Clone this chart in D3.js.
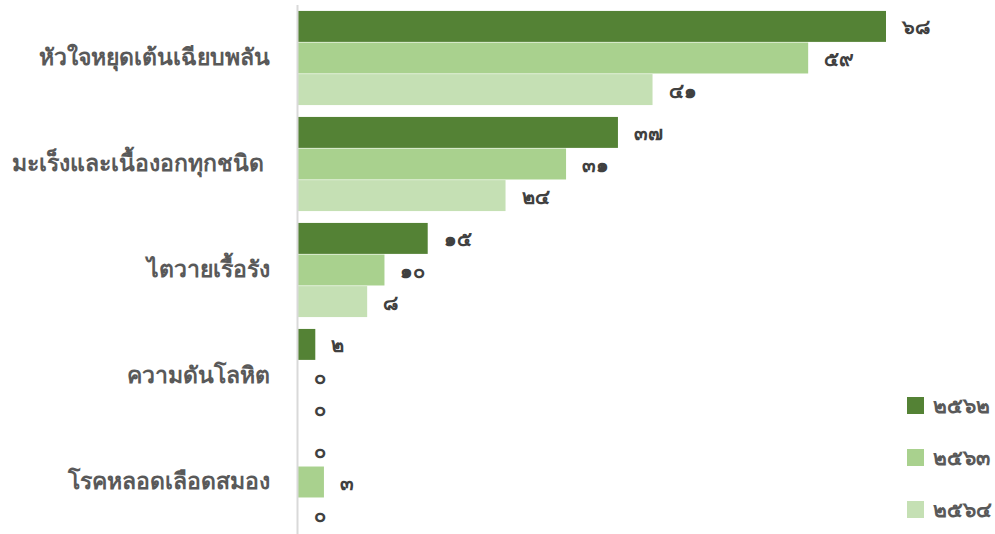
<!DOCTYPE html>
<html><head><meta charset="utf-8">
<script src="https://cdn.jsdelivr.net/npm/d3@7"></script>
<style>
html,body{margin:0;padding:0;background:#fff;}
svg{display:block;font-family:"Noto Sans","Open Sans",sans-serif;}
</style></head>
<body><svg id="c" width="995" height="534"></svg>
<script>
const categories = ["หัวใจหยุดเต้นเฉียบพลัน","มะเร็งและเนื้องอกทุกชนิด\u00A0","ไตวายเรื้อรัง","ความดันโลหิต","โรคหลอดเลือดสมอง"];
const seriesNames = ["๒๕๖๒","๒๕๖๓","๒๕๖๔"];
const v2562 = [68,37,15,2,0];
const v2563 = [59,31,10,0,3];
const v2564 = [41,24,8,0,0];
const colors = ["#548235","#A9D18E","#C5E0B4"];
const series = [v2562,v2563,v2564];
const thai = n => String(n).replace(/[0-9]/g, d => "๐๑๒๓๔๕๖๗๘๙"[+d]);

const svg = d3.select("#c");
const x = d3.scaleLinear().domain([0,68]).range([298,886]);
const y0 = d3.scaleBand().domain(categories).range([5,535]).paddingInner(0.1).paddingOuter(0.05);
const y1 = d3.scaleBand().domain(seriesNames).range([0,y0.bandwidth()]).padding(0.02);

const g = svg.append("g");
categories.forEach((c,i)=>{
  const gg = g.append("g").attr("transform",`translate(0,${y0(c)})`);
  seriesNames.forEach((s,j)=>{
    const v = series[j][i];
    gg.append("rect").attr("x",x(0)).attr("y",y1(s)).attr("width",x(v)-x(0)).attr("height",y1.bandwidth()).attr("fill",colors[j]);
    gg.append("text").attr("x",x(v)+16).attr("y",y1(s)+y1.bandwidth()/2).attr("dy","0.4em")
      .attr("fill","#404040").attr("font-size",20).attr("font-weight","bold").text(thai(v));
  });
});
// axis line
svg.append("line").attr("x1",x(0)-0.5).attr("x2",x(0)-0.5).attr("y1",5).attr("y2",534).attr("stroke","#D9D9D9").attr("stroke-width",2);
// category labels
const ax = d3.axisLeft(y0).tickSize(0).tickPadding(28);
const axg = svg.append("g").attr("transform",`translate(${x(0)},0)`).call(ax);
axg.select(".domain").remove();
axg.selectAll("text").attr("fill","#595959").attr("font-size",23).attr("font-weight","bold").style("font-family","\"Noto Sans\",sans-serif");
// legend
const leg = svg.append("g");
seriesNames.forEach((s,j)=>{
  const yy = 405 + j*52;
  leg.append("rect").attr("x",907).attr("y",yy-8).attr("width",17).attr("height",17).attr("fill",colors[j]);
  leg.append("text").attr("x",933).attr("y",yy).attr("dy","0.4em").attr("fill","#595959").attr("font-size",21).attr("font-weight","bold").text(s);
});
</script></body></html>
